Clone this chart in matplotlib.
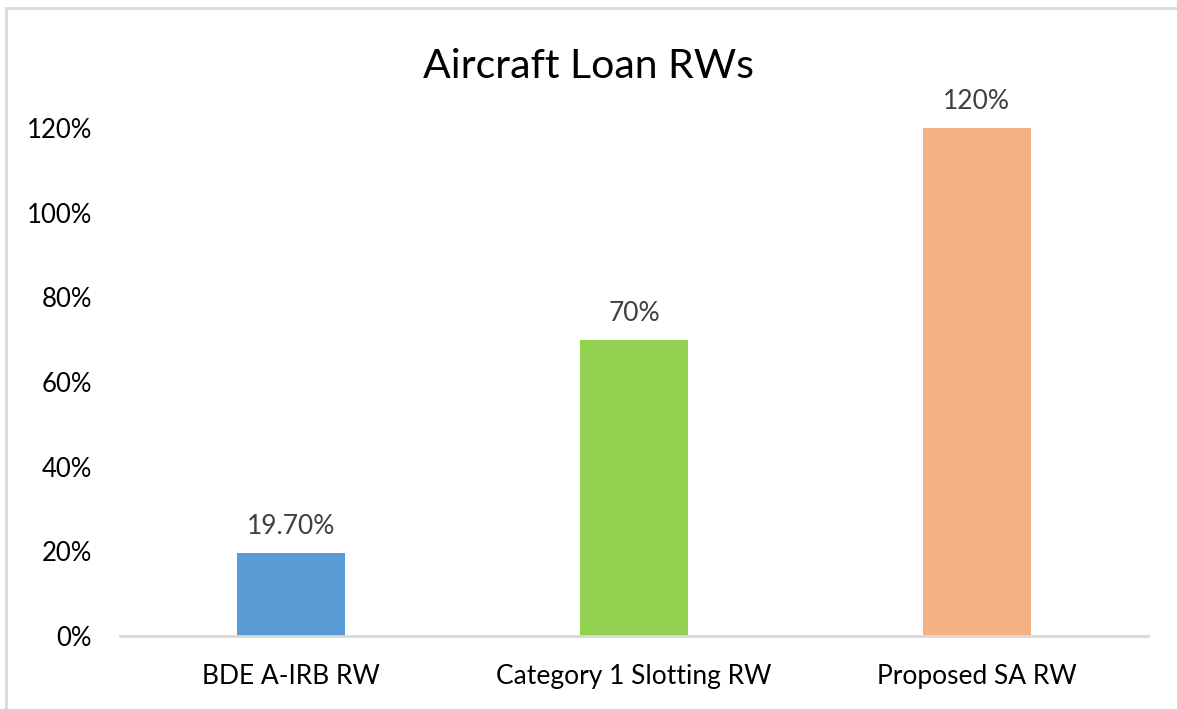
import matplotlib
matplotlib.use("Agg")
import matplotlib.pyplot as plt
from matplotlib.patches import Rectangle

categories = ["BDE A-IRB RW", "Category 1 Slotting RW", "Proposed SA RW"]
values = [19.7, 70, 120]
value_labels = ["19.70%", "70%", "120%"]
colors = ["#5B9BD5", "#92D050", "#F4B183"]
yticks = [0, 20, 40, 60, 80, 100, 120]
ytick_labels = ["0%", "20%", "40%", "60%", "80%", "100%", "120%"]

plt.rcParams['font.family'] = ['Lato', 'DejaVu Sans']

W, H = 1177, 709
fig = plt.figure(figsize=(W/100, H/100), dpi=100)
fig.patches.append(Rectangle((6/W, -0.1), 1.2, 1 - 8/H + 0.1, transform=fig.transFigure,
                             fill=False, edgecolor="#D9D9D9", linewidth=2))

ax = fig.add_axes([120/W, 1 - 636/H, (1148-120)/W, (636-128)/H])
x = list(range(len(categories)))
ax.bar(x, values, width=0.315, color=colors)
ax.set_xlim(-0.5, 2.5)
ax.set_ylim(0, 120)
ax.set_yticks(yticks)
ax.set_yticklabels(ytick_labels, fontsize=18.5, color="#000000")
ax.set_xticks(x)
ax.set_xticklabels(categories, fontsize=19, color="#000000")
for s in ["top", "right", "left"]:
    ax.spines[s].set_visible(False)
ax.spines["bottom"].set_color("#D9D9D9")
ax.spines["bottom"].set_linewidth(2)
ax.tick_params(axis="y", length=0, pad=20)
ax.tick_params(axis="x", length=0, pad=20)
for xi, v, lab in zip(x, values, value_labels):
    ax.annotate(lab, (xi, v), xytext=(0, 10), textcoords="offset points",
                ha="center", va="bottom", fontsize=19, color="#404040", clip_on=False)
fig.text(0.5, 1 - 66/H, "Aircraft Loan RWs", ha="center", va="center", fontsize=29.5, color="#000000")
fig.savefig("out.png", dpi=100, facecolor="white")
